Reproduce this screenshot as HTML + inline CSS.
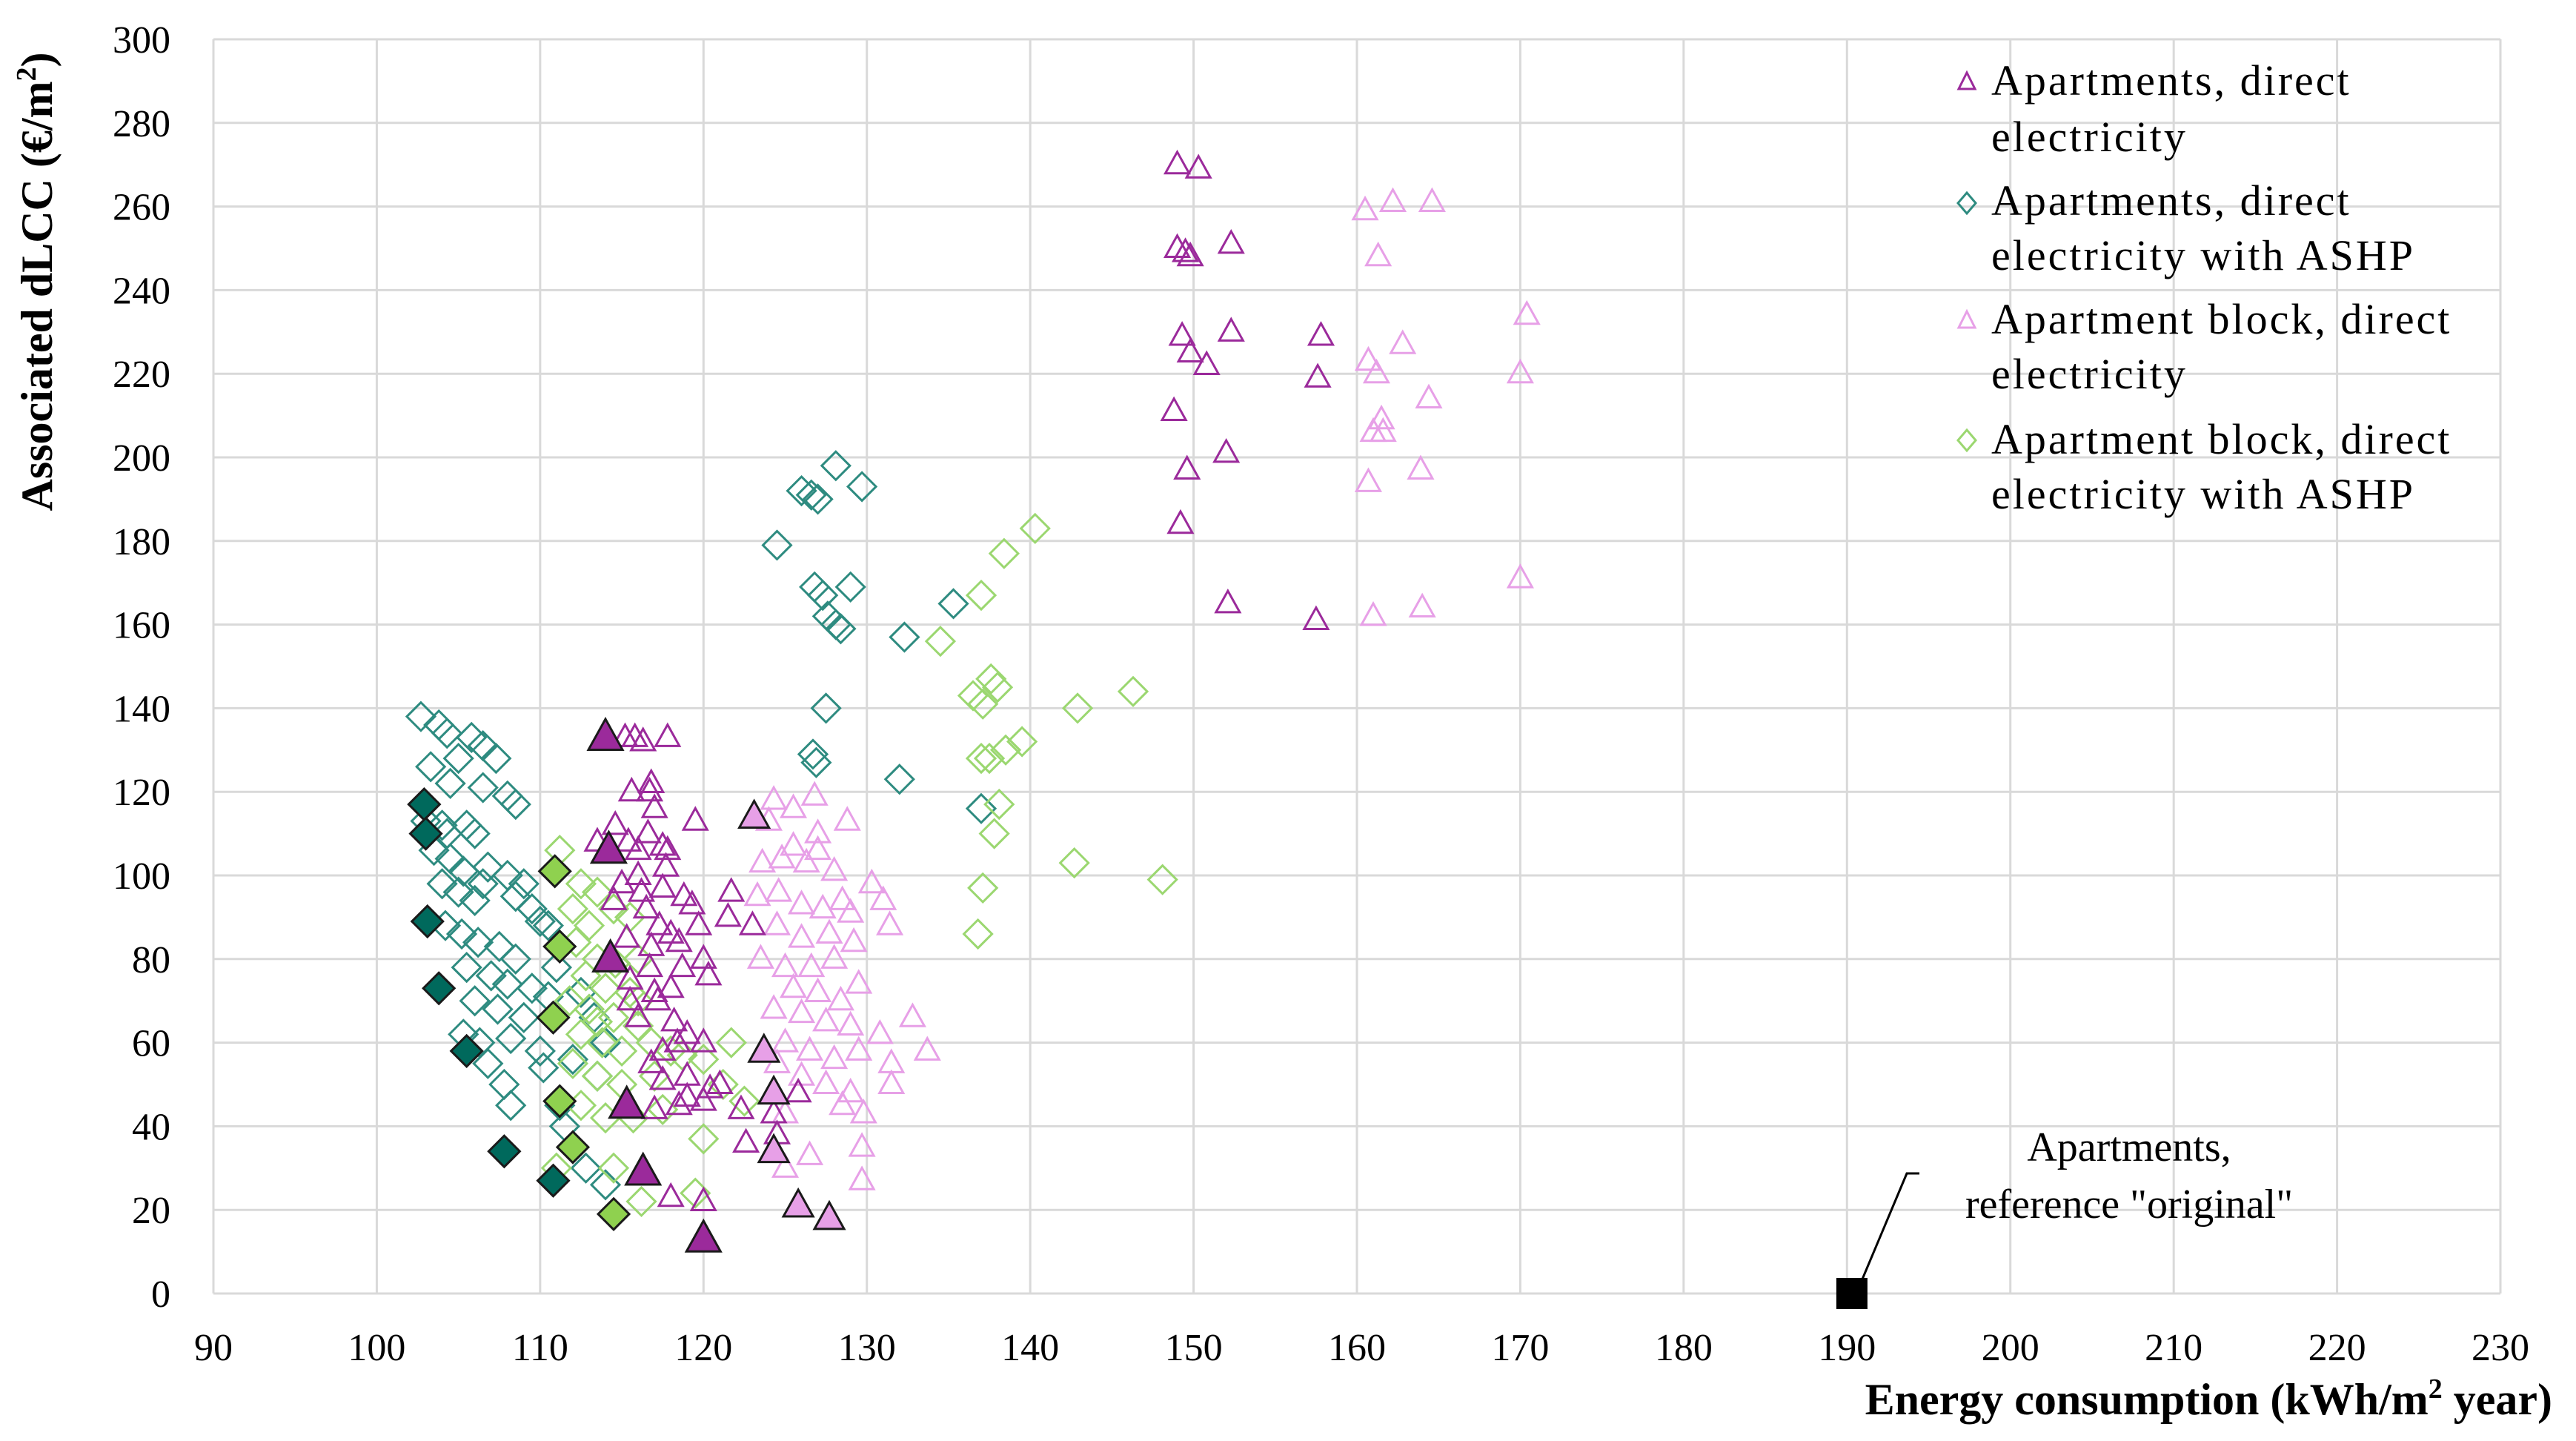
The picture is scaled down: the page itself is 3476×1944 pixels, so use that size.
<!DOCTYPE html>
<html><head><meta charset="utf-8"><style>
html,body{margin:0;padding:0;background:#fff;}
svg{display:block;font-family:"Liberation Serif",serif;}
</style></head><body>
<svg id="chart" width="3476" height="1944" viewBox="0 0 3476 1944" xmlns="http://www.w3.org/2000/svg">
<g id="grid"></g>
<g id="ticks"></g>
<g id="marks"></g>
<text transform="translate(70,380) rotate(-90)" text-anchor="middle" font-size="60" font-weight="bold">Associated dLCC (€/m<tspan font-size="38" dy="-22">2</tspan><tspan dy="22">)</tspan></text>
<text x="3444" y="1908" text-anchor="end" font-size="60" font-weight="bold">Energy consumption (kWh/m<tspan font-size="38" dy="-22">2</tspan><tspan dy="22"> year)</tspan></text>
<g font-size="58" letter-spacing="3">
 <g>
  <polygon points="2654,98 2643,120 2665,120" fill="none" stroke="#9b2a9b" stroke-width="3"/>
  <text x="2687" y="128">Apartments, direct</text><text x="2687" y="204">electricity</text></g>
 <g>
  <polygon points="2654,260 2666,274 2654,288 2642,274" fill="none" stroke="#2e8b80" stroke-width="3"/>
  <text x="2687" y="290">Apartments, direct</text><text x="2687" y="364">electricity with ASHP</text></g>
 <g>
  <polygon points="2654,420 2643,442 2665,442" fill="none" stroke="#e7a0e7" stroke-width="3"/>
  <text x="2687" y="450">Apartment block, direct</text><text x="2687" y="524">electricity</text></g>
 <g>
  <polygon points="2654,580 2666,594 2654,608 2642,594" fill="none" stroke="#9bd770" stroke-width="3"/>
  <text x="2687" y="612">Apartment block, direct</text><text x="2687" y="686">electricity with ASHP</text></g>
</g>
<g font-size="56" text-anchor="middle">
 <text x="2873" y="1566">Apartments,</text>
 <text x="2873" y="1643">reference "original"</text>
 <polyline points="2512,1728 2573,1583 2590,1583" fill="none" stroke="#000" stroke-width="3"/>
</g>
</svg>
<script>
const xTicks=[90,100,110,120,130,140,150,160,170,180,190,200,210,220,230];
const yTicks=[0,20,40,60,80,100,120,140,160,180,200,220,240,260,280,300];
const aptDirectX=[149,150.3,149,149.5,149.8,152.3,149.3,149.8,150.8,152.3,157.8,157.6,148.8,152,149.6,149.2,152.1,157.5,115.2,115.8,116.3,117.8,116.8,116.7,115.6,117,114.6,116.6,113.5,115.4,116,117.8,117.5,119.5,115,116.2,117.5,118.8,119.3,121.7,121.5,116.5,117.3,118,115.3,116.8,118.5,120,120.3,119.7,115.5,117,118,115.5,117.2,116,118.2,119,118.4,120,117.5,116.8,117.5,119,120.4,120,121,119,118.5,117,122.3,122.6,124.3,125.8,124.5,118,120,123,116,117.7,114.5,116.7,118.7];
const aptDirectY=[270,269,250,249,248,251,229,225,222,230,229,219,211,201,197,184,165,161,133,133,132,133,122,120,120,116,112,110,108,108,106,106,107,113,98,96,97,95,93,96,90,92,88,86,85,83,84,80,76,88,75,72,73,70,70,66,65,62,60,60,58,55,51,52,49,46,50,47,45,44,44,36,43,48,38,23,22,88,100,102,94,78,78];
const aptAshpX=[128.1,126,126.6,127,129.7,124.5,126.8,127.3,129,127.6,128.1,128.4,132.3,135.3,127.5,126.7,126.9,132,137,102.7,103.8,104.3,105.8,106.5,107.3,105,103.3,104.5,106.5,108,108.5,103,104,105.5,106,103.5,104.5,105.3,106.8,108,109,104,105,106,108.5,109.5,110,110.5,104.2,105.2,106.2,107.5,108.5,105.5,107,108,109.5,110.5,106,107.4,109,105.3,106.3,108.2,110,106.8,107.8,110.2,112,113.5,111.2,108.2,111.5,112.8,114,113.3,114,112.5,111,104.3,106.5];
const aptAshpY=[198,192,191,190,193,179,169,167,169,162,160,159,157,165,140,129,127,123,116,138,136,134,133,131,128,128,126,122,121,119,117,113,112,112,110,106,104,101,102,100,98,98,96,94,95,92,89,88,88,86,84,83,80,78,76,74,73,71,70,68,66,62,60,61,58,55,50,54,56,52,45,45,40,30,26,66,60,72,78,110,98];
const blockDirectX=[160.5,162.2,164.6,161.3,170.4,162.8,160.7,161.2,170,164.4,161.5,161,161.6,163.9,160.7,170,164,161,124.3,125.5,126.8,128.8,124,127,125.5,124.8,123.6,126.3,127,128,130.3,131,131.4,123.3,124.6,126,127.3,128.5,129,124.5,126,127.7,129.2,123.5,125,126.6,128,125.5,127,128.4,129.5,124.3,126,127.5,129,130.8,132.8,125,126.5,128,129.5,131.5,133.7,124.5,126,127.5,129,131.5,128.5,129.8,125,129.7,129.7,126.5,125];
const blockDirectY=[259,261,261,248,234,227,223,220,220,214,209,206,206,197,194,171,164,162,118,116,119,113,113,110,107,104,103,103,106,101,98,94,88,95,96,93,92,94,91,88,85,86,84,80,78,78,80,73,72,70,74,68,67,65,64,62,66,60,58,56,58,55,58,55,52,50,48,50,45,43,43,35,27,33,30];
const blockAshpX=[140.3,138.4,137,134.5,137.6,136.5,137.1,138,146.3,142.9,139.5,138.5,137,137.5,138.1,137.8,142.7,148.1,137.1,136.8,111.2,112.5,113.5,112,113,114.5,115.5,112.2,113.5,114.6,116,112.8,114,115.5,111.8,113,114.5,116,112.5,113.8,115,116.8,118,112,113.5,115,117,118.7,120,121.7,121.2,122.5,112.5,114,115.7,117.5,120,119.5,116.2,114.5,111,113.5,116];
const blockAshpY=[183,177,167,156,147,143,141,145,144,140,132,130,128,128,117,110,103,99,97,86,106,98,96,92,88,92,90,84,80,79,80,76,73,72,70,68,66,64,62,60,58,60,58,55,52,50,52,57,56,60,50,46,45,42,42,44,37,24,22,30,30,65,70];
const hlAptX=[114,114.2,114.3,115.3,116.3,120];
const hlAptY=[133,106,80,45,29,13];
const hlBlockX=[123.1,123.7,124.3,124.3,125.8,127.7];
const hlBlockY=[114,58,48,34,21,18];
const hlAptAshpX=[102.9,103,103.1,103.8,105.5,107.8,110.8];
const hlAptAshpY=[117,110,89,73,58,34,27];
const hlBlockAshpX=[110.9,111.2,110.8,111.2,112,114.5];
const hlBlockAshpY=[101,83,66,46,35,19];
const refX=[190.3];
const refY=[0];

const NS='http://www.w3.org/2000/svg';
const L=288,R=3374,T=53,B=1745;
const sx=v=>L+(v-90)/(230-90)*(R-L);
const sy=v=>B-(v/300)*(B-T);
function mk(tag,attrs,parent){const e=document.createElementNS(NS,tag);for(const k in attrs)e.setAttribute(k,attrs[k]);parent.appendChild(e);return e;}
const grid=document.getElementById('grid'),ticks=document.getElementById('ticks'),marks=document.getElementById('marks');
xTicks.forEach(t=>{
 const l=mk('line',{x1:sx(t),x2:sx(t),y1:T,y2:B,stroke:'#d9d9d9','stroke-width':3},grid);
 
 
 const tx=mk('text',{x:sx(t),y:B+90,'text-anchor':'middle','font-size':52},ticks);
 tx.textContent=t;
 
 
});
yTicks.forEach(t=>{
 const l=mk('line',{x1:L,x2:R,y1:sy(t),y2:sy(t),stroke:'#d9d9d9','stroke-width':3},grid);
 
 
 const tx=mk('text',{x:L-58,y:sy(t)+18,'text-anchor':'end','font-size':52},ticks);
 tx.textContent=t;
 
 
});
function tri(x,y,s,fill,stroke,sw,name){
 const cx=sx(x),cy=sy(y),h=s*0.9;
 const p=mk('polygon',{points:`${cx},${cy-h*0.6} ${cx-s/2},${cy+h*0.4} ${cx+s/2},${cy+h*0.4}`,fill:fill,stroke:stroke,'stroke-width':sw},marks);
 
 
}
function dia(x,y,s,fill,stroke,sw,name){
 const cx=sx(x),cy=sy(y),r=s/2;
 const p=mk('polygon',{points:`${cx},${cy-r} ${cx+r},${cy} ${cx},${cy+r} ${cx-r},${cy}`,fill:fill,stroke:stroke,'stroke-width':sw},marks);
 
 
}
aptAshpX.forEach((x,i)=>dia(x,aptAshpY[i],38,'none','#2e8b80',3,'apartments-ashp-point'));
blockAshpX.forEach((x,i)=>dia(x,blockAshpY[i],38,'none','#9bd770',3,'block-ashp-point'));
blockDirectX.forEach((x,i)=>tri(x,blockDirectY[i],32,'none','#e7a0e7',3,'block-direct-point'));
aptDirectX.forEach((x,i)=>tri(x,aptDirectY[i],32,'none','#9b2a9b',3,'apartments-direct-point'));
hlAptAshpX.forEach((x,i)=>dia(x,hlAptAshpY[i],42,'#00695c','#1a1a1a',3,'apartments-ashp-highlight'));
hlBlockAshpX.forEach((x,i)=>dia(x,hlBlockAshpY[i],42,'#8fd14f','#1a1a1a',3,'block-ashp-highlight'));
hlBlockX.forEach((x,i)=>tri(x,hlBlockY[i],40,'#e7a0e7','#1a1a1a',3,'block-direct-highlight'));
hlAptX.forEach((x,i)=>tri(x,hlAptY[i],46,'#9b2a9b','#1a1a1a',3,'apartments-direct-highlight'));
refX.forEach((x,i)=>{
 const r=mk('rect',{x:sx(x)-21,y:sy(refY[i])-21,width:42,height:42,fill:'#000'},marks);
 
 
});
</script>
</body></html>
